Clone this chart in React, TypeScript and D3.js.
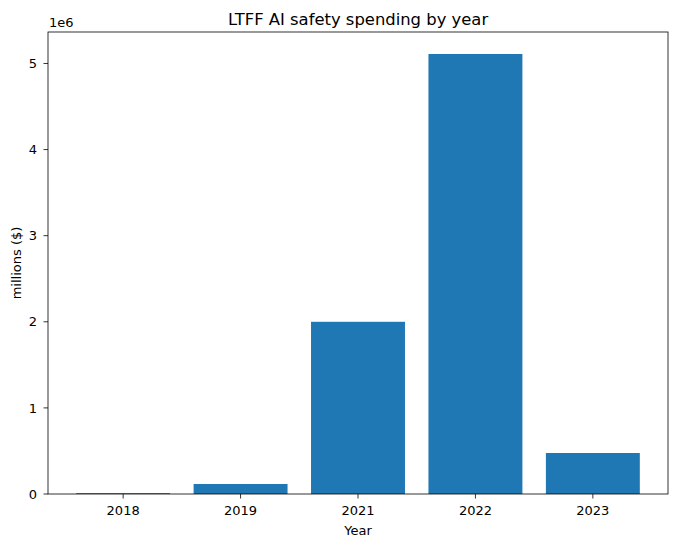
import React, { useEffect, useRef } from "react";
import * as d3 from "d3";

const years = ["2018", "2019", "2021", "2022", "2023"];
const spending = [10000, 116000, 2000000, 5110000, 476000];
const yTicks = [0, 1e6, 2e6, 3e6, 4e6, 5e6];

const App: React.FC = () => {
  const svgRef = useRef<SVGSVGElement | null>(null);

  useEffect(() => {
    if (!svgRef.current) return;
    const W = 678;
    const H = 547;
    const margin = { top: 32, right: 10, bottom: 53, left: 48 };
    const width = W - margin.left - margin.right;
    const height = H - margin.top - margin.bottom;
    const font = "DejaVu Sans, sans-serif";
    const fs = "13px";

    const root = d3.select(svgRef.current);
    root.selectAll("*").remove();
    root.attr("width", W).attr("height", H);
    root.append("rect").attr("width", W).attr("height", H).attr("fill", "white");

    const g = root.append("g").attr("transform", `translate(${margin.left},${margin.top})`);

    // categorical x positions like matplotlib: index with 0.8 wide bars and 5% margins
    const n = years.length;
    const pad = 0.05 * (n - 1 + 0.8);
    const x = d3.scaleLinear().domain([-0.4 - pad, n - 1 + 0.4 + pad]).range([0, width]);
    const yMax = d3.max(spending) || 0;
    const y = d3.scaleLinear().domain([0, yMax * 1.05]).range([height, 0]);
    const bw = x(0.8) - x(0);

    g.selectAll("rect.bar")
      .data(spending)
      .enter()
      .append("rect")
      .attr("class", "bar")
      .attr("x", (_, i) => x(i - 0.4))
      .attr("y", d => y(d))
      .attr("width", bw)
      .attr("height", d => height - y(d))
      .attr("fill", "#1f77b4");

    // x axis
    const xAxis = g.append("g").attr("transform", `translate(0,${height})`);
    years.forEach((yr, i) => {
      xAxis.append("line").attr("x1", x(i)).attr("x2", x(i)).attr("y1", 0).attr("y2", 4.5)
        .attr("stroke", "black").attr("stroke-width", 0.8);
      xAxis.append("text").attr("x", x(i)).attr("y", 21).attr("text-anchor", "middle")
        .style("font-family", font).style("font-size", fs).text(yr);
    });

    // y axis
    const yAxis = g.append("g");
    yTicks.forEach(t => {
      yAxis.append("line").attr("x1", -4.5).attr("x2", 0).attr("y1", y(t)).attr("y2", y(t))
        .attr("stroke", "black").attr("stroke-width", 0.8);
      yAxis.append("text").attr("x", -11).attr("y", y(t) + 4.7).attr("text-anchor", "end")
        .style("font-family", font).style("font-size", fs).text(String(t / 1e6));
    });

    // frame
    g.append("rect").attr("width", width).attr("height", height)
      .attr("fill", "none").attr("stroke", "black").attr("stroke-width", 0.8);

    g.append("text").attr("x", 1).attr("y", -5)
      .style("font-family", font).style("font-size", fs).text("1e6");

    root.append("text").attr("x", margin.left + width / 2).attr("y", 25)
      .attr("text-anchor", "middle").style("font-family", font).style("font-size", "16.4px")
      .text("LTFF AI safety spending by year");

    root.append("text").attr("x", margin.left + width / 2).attr("y", 535)
      .attr("text-anchor", "middle").style("font-family", font).style("font-size", fs)
      .text("Year");

    root.append("text")
      .attr("transform", `translate(21,${margin.top + height / 2}) rotate(-90)`)
      .attr("text-anchor", "middle").style("font-family", font).style("font-size", fs)
      .text("millions ($)");
  }, []);

  return (
    <svg ref={svgRef} style={{ position: "absolute", left: 0, top: 0, display: "block" }}></svg>
  );
};

export default App;
